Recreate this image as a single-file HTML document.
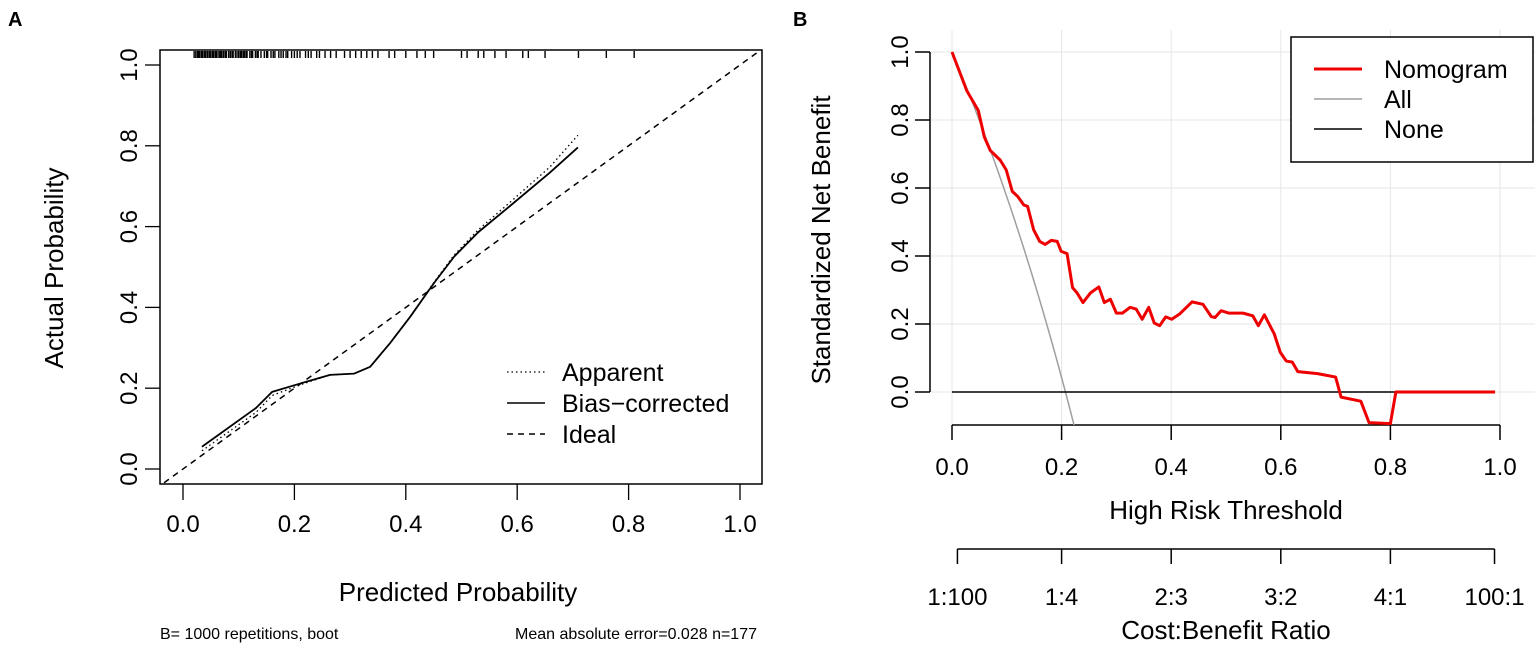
<!DOCTYPE html>
<html><head><meta charset="utf-8"><style>
body{margin:0;background:#fff}
svg{display:block;font-family:"Liberation Sans",Arial,sans-serif}
</style></head><body>
<svg id="s" width="1535" height="649" xmlns="http://www.w3.org/2000/svg">
<text x="8" y="26" font-size="20" font-weight="bold">A</text>
<text x="793" y="26" font-size="20" font-weight="bold">B</text>
<g id="A"></g>
<g id="B"></g>
</svg>
<script>
// ---------- Panel A data ----------
const calX = [0.034,0.131,0.160,0.214,0.264,0.307,0.336,0.372,0.408,0.451,0.487,0.530,0.587,0.659,0.709];
const biasY = [0.055,0.151,0.191,0.213,0.233,0.236,0.253,0.312,0.377,0.461,0.526,0.586,0.651,0.734,0.796];
const apparentY = [0.045,0.140,0.182,0.210,0.233,0.236,0.253,0.312,0.377,0.463,0.530,0.592,0.660,0.748,0.826];
const rug = [0.02,0.023,0.026,0.028,0.03,0.033,0.035,0.038,0.04,0.043,0.045,0.048,0.05,0.053,0.055,0.058,0.06,0.063,0.066,0.068,0.07,0.073,0.076,0.078,0.082,0.085,0.088,0.09,0.094,0.097,0.1,0.103,0.105,0.108,0.11,0.113,0.115,0.12,0.123,0.125,0.13,0.133,0.135,0.14,0.146,0.15,0.152,0.158,0.162,0.165,0.172,0.176,0.18,0.185,0.188,0.195,0.2,0.205,0.21,0.22,0.225,0.23,0.24,0.245,0.255,0.265,0.275,0.29,0.3,0.31,0.32,0.33,0.34,0.35,0.37,0.38,0.4,0.42,0.435,0.45,0.5,0.51,0.53,0.54,0.56,0.58,0.61,0.62,0.65,0.71,0.76,0.81];
const aTicks = [0,0.2,0.4,0.6,0.8,1.0];
// ---------- Panel B data ----------
const thr = [0,0.027,0.048,0.059,0.07,0.088,0.099,0.11,0.12,0.131,0.138,0.149,0.16,0.17,0.181,0.192,0.199,0.21,0.22,0.228,0.239,0.253,0.268,0.278,0.289,0.3,0.311,0.325,0.336,0.347,0.359,0.369,0.379,0.39,0.401,0.415,0.438,0.458,0.473,0.48,0.491,0.505,0.531,0.549,0.559,0.57,0.588,0.599,0.61,0.621,0.631,0.667,0.7,0.71,0.746,0.761,0.8,0.81,0.991];
const nomo = [1,0.886,0.828,0.75,0.71,0.682,0.653,0.59,0.575,0.55,0.546,0.477,0.443,0.434,0.446,0.443,0.414,0.407,0.307,0.292,0.263,0.292,0.309,0.263,0.273,0.232,0.232,0.249,0.244,0.214,0.249,0.203,0.195,0.221,0.214,0.229,0.265,0.258,0.222,0.219,0.239,0.232,0.232,0.224,0.195,0.227,0.171,0.117,0.091,0.088,0.06,0.054,0.044,-0.015,-0.027,-0.09,-0.093,0,0];
const prevalence = 0.207;
const bTicks = [0,0.2,0.4,0.6,0.8,1.0];
const costLabels = ["1:100","1:4","2:3","3:2","4:1","100:1"];
const costThr = [0.0099,0.2,0.4,0.6,0.8,0.99];

const NS="http://www.w3.org/2000/svg";
function mk(p,tag,at,txt){const e=document.createElementNS(NS,tag);for(const k in at)e.setAttribute(k,at[k]);if(txt!==undefined)e.textContent=txt;p.appendChild(e);return e;}
function fmt(v){return v.toFixed(1);}
const TF=24, TT=26;

// ----- Panel A -----
const A=document.getElementById('A');
const ax=v=>183+557*v, ay=v=>469-404*v;
mk(A,'defs',{}).innerHTML='<clipPath id="cA"><rect x="160" y="50" width="602" height="434"/></clipPath>';
let e=mk(A,'rect',{x:160,y:50,width:602,height:434,fill:'none',stroke:'#000','stroke-width':1.5});


aTicks.forEach(t=>{
  let l=mk(A,'line',{x1:ax(t),x2:ax(t),y1:484,y2:500,stroke:'#000','stroke-width':1.3});
  
  
  let tx=mk(A,'text',{x:ax(t),y:532,'font-size':TF,'text-anchor':'middle'},fmt(t));
  
  
  let l2=mk(A,'line',{x1:145,x2:160,y1:ay(t),y2:ay(t),stroke:'#000','stroke-width':1.3});
  
  
  let ty=mk(A,'text',{x:0,y:0,'font-size':TF,'text-anchor':'middle',transform:`translate(137,${ay(t)}) rotate(-90)`},fmt(t));
  
  
});
const gA=mk(A,'g',{'clip-path':'url(#cA)'});
e=mk(gA,'line',{x1:ax(-0.05),y1:ay(-0.05),x2:ax(1.1),y2:ay(1.1),stroke:'#000','stroke-width':1.5,'stroke-dasharray':'6,5'});


e=mk(gA,'polyline',{points:calX.map((x,i)=>ax(x)+','+ay(apparentY[i])).join(' '),fill:'none',stroke:'#000','stroke-width':1.3,'stroke-dasharray':'1.5,3'});


e=mk(gA,'polyline',{points:calX.map((x,i)=>ax(x)+','+ay(biasY[i])).join(' '),fill:'none',stroke:'#000','stroke-width':1.8,'stroke-linejoin':'round'});


rug.forEach(r=>{
  let l=mk(A,'line',{x1:ax(r),x2:ax(r),y1:51,y2:58,stroke:'#000','stroke-width':1.4});
  
  
});
// legend A
const lg=mk(A,'g',{});


mk(lg,'line',{x1:507,x2:545,y1:372,y2:372,stroke:'#000','stroke-width':1.3,'stroke-dasharray':'1.5,3'});
mk(lg,'line',{x1:507,x2:545,y1:403,y2:403,stroke:'#000','stroke-width':1.5});
mk(lg,'line',{x1:507,x2:545,y1:434,y2:434,stroke:'#000','stroke-width':1.5,'stroke-dasharray':'6,5'});
mk(lg,'text',{x:562,y:381,'font-size':25},'Apparent');
mk(lg,'text',{x:562,y:412,'font-size':25},'Bias\u2212corrected');
mk(lg,'text',{x:562,y:443,'font-size':25},'Ideal');
e=mk(A,'text',{x:458,y:601,'font-size':TT,'text-anchor':'middle'},'Predicted Probability');


e=mk(A,'text',{x:0,y:0,'font-size':TT,'text-anchor':'middle',transform:'translate(63,268) rotate(-90)'},'Actual Probability');


e=mk(A,'text',{x:160,y:639,'font-size':16},'B= 1000 repetitions, boot');


e=mk(A,'text',{x:757,y:639,'font-size':16,'text-anchor':'end'},'Mean absolute error=0.028 n=177');



// ----- Panel B -----
const B=document.getElementById('B');
const bx=v=>952+548*v, by=v=>392-340*v;
mk(B,'defs',{}).innerHTML='<clipPath id="cB"><rect x="931" y="30" width="600" height="395"/></clipPath>';
bTicks.forEach(t=>{
  let g=mk(B,'line',{x1:bx(t),x2:bx(t),y1:30,y2:425,stroke:'#e6e6e6','stroke-width':1});
  
  
  let g2=mk(B,'line',{x1:931,x2:1535,y1:by(t),y2:by(t),stroke:'#e6e6e6','stroke-width':1});
  
  
});
e=mk(B,'line',{x1:930,x2:930,y1:by(1),y2:by(0),stroke:'#000','stroke-width':1.5});


e=mk(B,'line',{x1:bx(0),x2:bx(1),y1:425,y2:425,stroke:'#000','stroke-width':1.5});


bTicks.forEach(t=>{
  let l=mk(B,'line',{x1:bx(t),x2:bx(t),y1:425,y2:440,stroke:'#000','stroke-width':1.5});
  
  
  let tx=mk(B,'text',{x:bx(t),y:475,'font-size':TF,'text-anchor':'middle'},fmt(t));
  
  
  let l2=mk(B,'line',{x1:915,x2:930,y1:by(t),y2:by(t),stroke:'#000','stroke-width':1.5});
  
  
  let ty=mk(B,'text',{x:0,y:0,'font-size':TF,'text-anchor':'middle',transform:`translate(908,${by(t)}) rotate(-90)`},fmt(t));
  
  
});
const gB=mk(B,'g',{'clip-path':'url(#cB)'});
let allPts=[];for(let t=0;t<=0.24;t+=0.005){allPts.push(bx(t)+','+by(1-(t/(1-t))*(1-prevalence)/prevalence));}
e=mk(gB,'polyline',{points:allPts.join(' '),fill:'none',stroke:'#9e9e9e','stroke-width':1.5});


e=mk(gB,'line',{x1:bx(0),x2:bx(0.991),y1:by(0),y2:by(0),stroke:'#000','stroke-width':1.5});


e=mk(gB,'polyline',{points:thr.map((x,i)=>bx(x)+','+by(nomo[i])).join(' '),fill:'none',stroke:'#ee0000','stroke-width':3,'stroke-linejoin':'round'});


// legend B
const lb=mk(B,'g',{});


mk(lb,'rect',{x:1291,y:37,width:242,height:125,fill:'#fff',stroke:'#000','stroke-width':1.5});
mk(lb,'line',{x1:1314,x2:1362,y1:69,y2:69,stroke:'#ee0000','stroke-width':3});
mk(lb,'line',{x1:1314,x2:1362,y1:99,y2:99,stroke:'#9e9e9e','stroke-width':1.5});
mk(lb,'line',{x1:1314,x2:1362,y1:129,y2:129,stroke:'#000','stroke-width':1.5});
mk(lb,'text',{x:1384,y:78,'font-size':25},'Nomogram');
mk(lb,'text',{x:1384,y:108,'font-size':25},'All');
mk(lb,'text',{x:1384,y:138,'font-size':25},'None');
e=mk(B,'text',{x:1226,y:519,'font-size':TT,'text-anchor':'middle'},'High Risk Threshold');


e=mk(B,'text',{x:0,y:0,'font-size':TT,'text-anchor':'middle',transform:'translate(830,240) rotate(-90)'},'Standardized Net Benefit');


e=mk(B,'line',{x1:bx(costThr[0]),x2:bx(costThr[5]),y1:549,y2:549,stroke:'#000','stroke-width':1.5});


costLabels.forEach((c,i)=>{
  let l=mk(B,'line',{x1:bx(costThr[i]),x2:bx(costThr[i]),y1:549,y2:564,stroke:'#000','stroke-width':1.5});
  
  
  let t=mk(B,'text',{x:bx(costThr[i]),y:605,'font-size':TF,'text-anchor':'middle'},c);
  
  
});
e=mk(B,'text',{x:1226,y:639,'font-size':TT,'text-anchor':'middle'},'Cost:Benefit Ratio');


</script>
</body></html>
